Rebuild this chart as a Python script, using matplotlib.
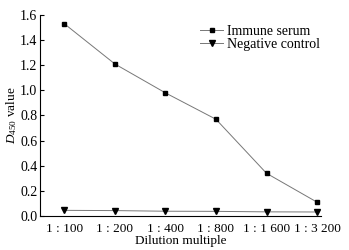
import matplotlib
matplotlib.use('Agg')
import matplotlib.pyplot as plt

dilutions = ['1 : 100', '1 : 200', '1 : 400', '1 : 800', '1 : 1 600', '1 : 3 200']
immune = [1.53, 1.21, 0.98, 0.77, 0.34, 0.11]
negative = [0.045, 0.043, 0.038, 0.037, 0.033, 0.032]

plt.rcParams['font.family'] = ['Liberation Serif', 'DejaVu Serif']
plt.rcParams['mathtext.fontset'] = 'custom'
plt.rcParams['mathtext.rm'] = 'Liberation Serif'
plt.rcParams['mathtext.it'] = 'Liberation Serif:italic'

fig = plt.figure(figsize=(3.49, 2.5), dpi=100)
ax = fig.add_axes([0.115, 0.136, 0.805, 0.804])

x = range(len(dilutions))
ax.plot(x, immune, color='#777777', lw=0.7, marker='s', ms=3.5,
        mfc='black', mec='black', label='Immune serum')
ax.plot(x, negative, color='#777777', lw=0.7, marker='v', ms=4,
        mfc='black', mec='black', label='Negative control')

ax.set_xlim(-0.48, 5.08)
ax.set_ylim(0, 1.6)
ax.set_yticks([0, 0.2, 0.4, 0.6, 0.8, 1.0, 1.2, 1.4, 1.6])
ax.set_yticklabels(['0.0', '0.2', '0.4', '0.6', '0.8', '1.0', '1.2', '1.4', '1.6'])
ax.set_xticks(list(x))
ax.set_xticklabels(dilutions)
ax.tick_params(axis='y', direction='in', length=3, width=0.8, labelsize=10, pad=2)
ax.tick_params(axis='x', length=0, labelsize=9.5, pad=5)
for s in ['top', 'right']:
    ax.spines[s].set_visible(False)
ax.spines['left'].set_linewidth(0.8)
ax.spines['bottom'].set_linewidth(0.8)

ax.set_xlabel('Dilution multiple', fontsize=9.5, labelpad=0)
ax.set_ylabel(r'$\mathit{D}_{\mathrm{450}}$ value', fontsize=9.5, labelpad=1)

ax.legend(loc='upper right', bbox_to_anchor=(1.03, 1.0), frameon=False, fontsize=10,
          handlelength=1.6, handletextpad=0.3, labelspacing=0.0, borderpad=0.2)

fig.savefig('out.png', dpi=100)
